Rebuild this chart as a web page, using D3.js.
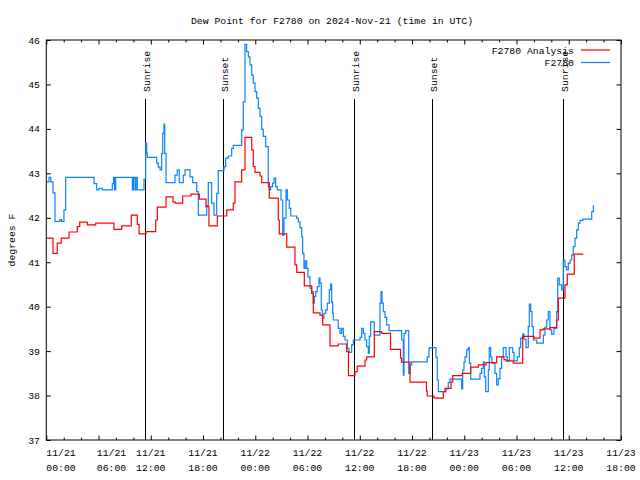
<!DOCTYPE html>
<html><head><meta charset="utf-8">
<script src="https://cdn.jsdelivr.net/npm/d3@7"></script>
<style>
body{margin:0;background:#fff;}
text{font-family:"Liberation Mono","DejaVu Sans Mono",monospace;font-size:9.8px;fill:#000;}
</style></head>
<body><svg id="c" width="640" height="480"></svg>
<script>
// ---- data (hours since 2024-11-21 00:00 UTC) ----
const title = "Dew Point for F2780 on 2024-Nov-21 (time in UTC)";
const yLabel = "degrees F";
const seriesNames = ["F2780 Analysis", "F2780"];
const analysisHours = [0,0.77,1.26,1.72,2.61,3.56,3.84,4.71,5.67,7.77,8.66,9.76,10.45,10.65,11.45,12.56,12.75,13.75,14.55,14.78,15.66,16.62,17.57,18.34,18.68,19.64,20.72,21.47,21.67,22.44,22.82,23.59,23.77,23.97,24.54,24.74,25.61,26.64,26.76,27.61,28.56,28.76,29.63,30.48,30.66,31.43,31.74,32.58,33.53,34.5,34.7,35.45,35.71,36.6,36.79,37.67,38.52,39.53,40.68,40.81,41.77,43.66,43.75,44.52,44.83,45.59,45.79,46.48,46.67,47.77,48.74,49.61,50.49,51.72,52.56,52.79,53.63,54.71,56.01,56.7,57.07,57.84,58.61,58.8,59.57,59.83,60.63,61.67];
const analysisTemps = [41.54,41.2,41.43,41.54,41.68,41.8,41.9,41.84,41.88,41.74,41.82,42.06,41.85,41.64,41.69,41.95,42.24,42.47,42.36,42.33,42.49,42.53,42.42,42.25,41.82,42.04,42.18,42.33,42.81,43.08,43.81,43.53,43.15,43.02,42.94,42.79,42.44,41.95,41.64,41.34,40.94,40.77,40.47,40.3,39.86,39.81,39.59,39.12,39.16,38.99,38.45,38.54,38.66,38.8,38.87,39.44,39.4,39.04,38.84,38.75,38.3,38.1,37.99,37.95,37.94,38.09,38.16,38.31,38.45,38.5,38.64,38.69,38.74,38.87,38.81,38.78,38.73,39.33,39.29,39.48,39.5,39.53,39.7,40.19,40.49,40.73,41.18,41.18];
const obsHours = [0,0.31,0.51,0.77,1.0,1.57,1.75,2.03,2.23,5.48,5.79,6.05,6.43,7.58,7.72,7.83,7.97,9.88,10.01,10.19,10.3,10.45,11.22,11.41,11.53,11.6,12.68,12.86,13.06,13.25,13.37,13.52,13.6,13.75,14.78,15.04,15.27,15.73,15.93,16.5,16.81,17.27,17.46,18.42,18.6,18.99,19.26,19.57,19.75,20.41,20.6,20.9,21.29,21.47,22.44,22.62,22.82,23.01,23.2,23.39,23.59,23.77,23.97,24.16,24.35,24.54,24.74,24.92,25.2,25.49,25.61,25.77,25.98,26.15,26.34,26.53,26.95,27.15,27.3,27.53,27.68,27.91,28.07,28.75,28.94,29.13,29.33,29.44,29.59,29.74,29.9,30.05,30.28,30.48,30.66,30.78,30.94,31.12,31.32,31.43,31.58,31.7,31.89,32.09,32.27,32.5,32.66,32.77,32.89,32.96,33.53,33.73,33.92,34.11,34.3,34.57,34.76,35.07,35.26,36.03,36.22,36.4,36.6,36.79,36.98,37.09,37.25,37.67,38.32,38.44,38.55,38.7,38.9,39.09,39.36,40.81,41.0,41.08,41.27,41.62,41.77,41.96,43.75,43.95,44.06,44.75,44.9,45.02,45.9,46.16,46.36,47.7,47.82,47.97,48.08,48.28,48.46,48.58,48.74,49.81,50.0,50.19,50.3,50.46,50.76,50.87,51.03,51.18,51.53,51.72,51.91,52.1,52.29,52.48,52.79,52.94,53.17,53.56,53.71,54.09,54.32,54.48,54.71,54.86,55.09,55.35,55.47,55.63,55.78,55.93,56.32,57.08,57.27,57.47,57.65,57.84,58.04,58.3,58.61,58.73,58.91,59.19,59.37,59.57,59.76,59.95,60.15,60.34,60.52,60.72,60.91,61.1,61.3,61.61,62.64,62.83,62.91];
const obsTemps = [42.81,42.91,42.81,42.56,41.92,41.96,41.92,42.18,42.91,42.77,42.63,42.66,42.63,42.77,42.91,42.63,42.91,42.63,42.91,42.63,42.91,42.63,42.87,43.68,43.45,43.36,43.23,43.14,43.08,43.45,43.9,44.11,43.45,42.79,42.96,43.08,42.79,42.96,43.08,42.92,42.79,42.59,42.06,42.28,42.79,42.33,42.06,42.55,43.06,43.15,43.34,43.39,43.56,43.63,43.98,44.61,45.9,45.74,45.62,45.44,45.21,45.03,44.84,44.69,44.46,44.28,43.99,43.83,43.6,42.7,42.63,42.7,42.78,42.89,42.7,42.63,42.4,41.61,41.99,42.63,42.4,42.21,42.04,41.99,41.91,41.78,41.57,41.2,40.86,41.03,40.86,40.67,40.41,40.34,40.08,40.23,40.34,40.45,40.64,40.53,39.93,39.74,39.85,39.93,40.08,40.38,40.51,40.1,39.85,39.7,39.51,39.4,39.51,39.33,39.25,39.06,38.97,39.14,39.25,39.31,39.51,39.4,39.25,39.1,38.95,39.33,39.66,39.36,40.08,40.34,40.08,39.89,39.76,39.59,39.46,39.25,38.46,39.4,39.46,38.5,38.69,38.76,38.87,39.06,39.08,38.86,38.35,38.09,38.15,38.29,38.37,38.15,38.58,38.76,38.87,39.03,39.08,38.73,38.37,38.5,38.61,38.76,38.42,38.09,38.58,39.08,38.87,38.73,38.5,38.24,38.38,38.61,38.87,39.08,38.87,38.78,39.08,38.97,38.78,38.87,39.08,39.29,39.38,39.27,39.08,39.55,40.06,39.89,39.55,39.25,39.18,39.36,39.54,39.7,39.89,39.48,39.38,39.51,39.89,40.64,40.49,40.38,41.05,40.9,40.83,40.98,41.05,41.16,41.35,41.54,41.73,41.88,41.94,41.97,42.14,42.27,42.27];
const sunNames = ["Sunrise","Sunset","Sunrise","Sunset","Sunrise"];
const sunHours = [11.37,20.33,35.37,44.33,59.37];
const yTicks = [37,38,39,40,41,42,43,44,45,46];
const xDomainHours = [0,66];

// ---- drawing ----
const t0 = Date.UTC(2024,10,21,0,0);
const toDate = h => new Date(t0 + h*3600000);
const svg = d3.select("#c");
const L=46.3, R=621, T=40, B=440;
const x = d3.scaleUtc().domain(xDomainHours.map(toDate)).range([L,R]);
const y = d3.scaleLinear().domain([37,46]).range([B,T]);

svg.append("text").attr("x",332).attr("y",23.5).attr("text-anchor","middle").text(title);

// sun lines
sunHours.forEach((h,i)=>{
  const sx = Math.round(x(toDate(h)))+0.5;
  svg.append("line").attr("x1",sx).attr("x2",sx).attr("y1",99).attr("y2",B)
    .attr("stroke","#000").attr("stroke-width",1);
  svg.append("text").attr("transform",`translate(${sx+4.5},92) rotate(-90)`)
    .attr("text-anchor","start").text(sunNames[i]);
});

// series
const line = d3.line().curve(d3.curveStepAfter).x(d=>x(toDate(d[0]))).y(d=>y(d[1]));
const obs = obsHours.map((h,i)=>[h,obsTemps[i]]);
const ana = analysisHours.map((h,i)=>[h,analysisTemps[i]]);
svg.append("path").attr("d",line(obs)).attr("fill","none").attr("stroke","#0a84ff").attr("stroke-width",1.2);
svg.append("path").attr("d",line(ana)).attr("fill","none").attr("stroke","#ff0000").attr("stroke-width",1.2);

// axes
const majorTicks = d3.range(0,67,6).map(toDate);
const minorTicks = d3.range(0,67,2).filter(h=>h%6!==0).map(toDate);
function clean(g){g.select(".domain").remove(); g.selectAll("line").attr("stroke","#000");}
svg.append("g").attr("transform",`translate(0,${B})`).call(d3.axisBottom(x).tickValues(majorTicks).tickSize(-4.5).tickFormat("")).call(clean);
svg.append("g").attr("transform",`translate(0,${B})`).call(d3.axisBottom(x).tickValues(minorTicks).tickSize(-2.5).tickFormat("")).call(clean);
svg.append("g").attr("transform",`translate(0,${T})`).call(d3.axisTop(x).tickValues(majorTicks).tickSize(-4.5).tickFormat("")).call(clean);
svg.append("g").attr("transform",`translate(0,${T})`).call(d3.axisTop(x).tickValues(minorTicks).tickSize(-2.5).tickFormat("")).call(clean);
svg.append("g").attr("transform",`translate(${L},0)`).call(d3.axisLeft(y).tickValues(yTicks).tickSize(-4.5).tickFormat("")).call(clean);
svg.append("g").attr("transform",`translate(${R},0)`).call(d3.axisRight(y).tickValues(yTicks).tickSize(-4.5).tickFormat("")).call(clean);

const fd = d3.utcFormat("%m/%d"), ft = d3.utcFormat("%H:%M");
majorTicks.forEach((d,i)=>{
  let lx = x(d), anchor = "middle";
  if (i===0) { lx = L; anchor = "start"; }
  else if (i===1) { lx = x(d) + 13; }
  const t = svg.append("text").attr("text-anchor",anchor);
  t.append("tspan").attr("x",lx).attr("y",455.5).text(fd(d));
  t.append("tspan").attr("x",lx).attr("y",470.5).text(ft(d));
});
yTicks.forEach(v=>{
  svg.append("text").attr("x",40).attr("y",y(v)+3.5).attr("text-anchor","end").text(v);
});
svg.append("text").attr("transform","translate(15,240) rotate(-90)").attr("text-anchor","middle").text(yLabel);

svg.append("rect").attr("x",L).attr("y",T).attr("width",R-L).attr("height",B-T)
  .attr("fill","none").attr("stroke","#000").attr("stroke-width",1);

// legend
const legColors = ["#ff0000","#0a84ff"];
seriesNames.forEach((n,i)=>{
  const ly = 50 + i*12.5;
  svg.append("text").attr("x",574).attr("y",ly+3.5).attr("text-anchor","end").text(n);
  svg.append("line").attr("x1",581).attr("x2",610).attr("y1",ly).attr("y2",ly)
    .attr("stroke",legColors[i]).attr("stroke-width",1.2);
});
</script></body></html>
